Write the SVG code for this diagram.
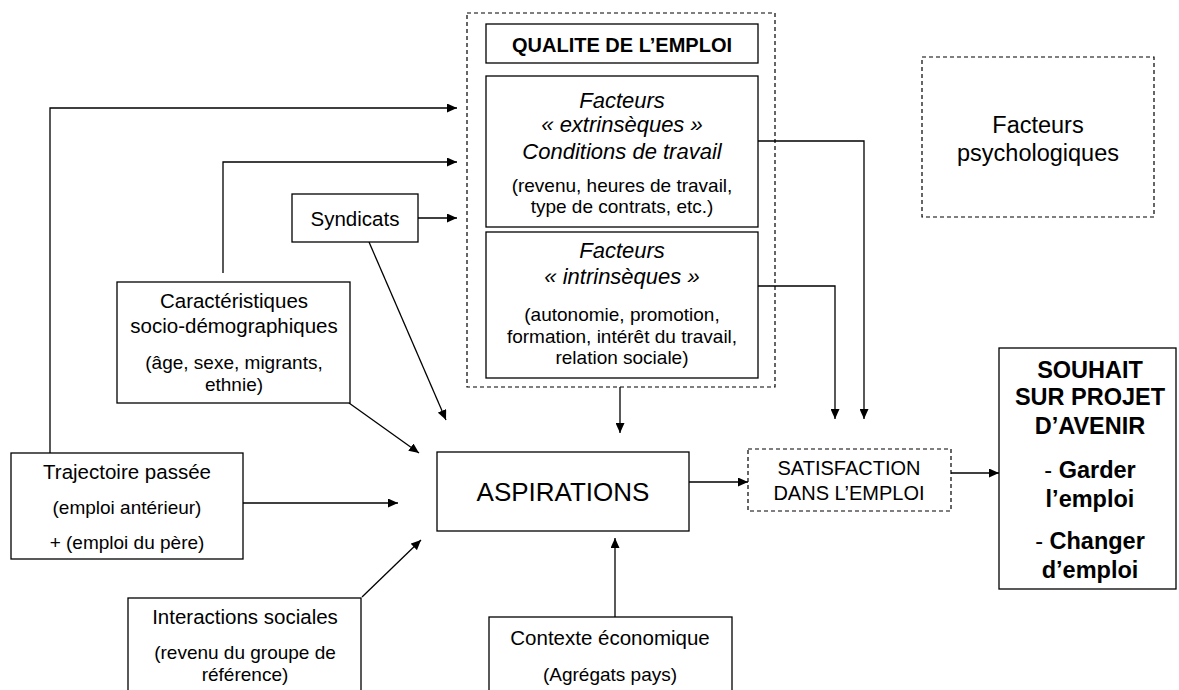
<svg xmlns="http://www.w3.org/2000/svg" width="1179" height="690" viewBox="0 0 1179 690">
<defs>
<marker id="arr" markerUnits="userSpaceOnUse" markerWidth="11" markerHeight="9" refX="10" refY="4.5" orient="auto">
<path d="M0,0 L10,4.5 L0,9 z" fill="#000"/>
</marker>
<style>
text{font-family:"Liberation Sans",Arial,sans-serif;fill:#000;text-anchor:middle}
.box{fill:#fff;stroke:#000;stroke-width:1.3}
.dash{fill:none;stroke:#000;stroke-width:1.2;stroke-dasharray:4 3}
.t{font-size:20.5px}
.p{font-size:19px}
.i{font-size:22px;font-style:italic}
.b{font-weight:bold}
.c{fill:none;stroke:#000;stroke-width:1.3}
.a{marker-end:url(#arr)}
</style>
</defs>
<rect width="1179" height="690" fill="#fff"/>

<g id="connectors">
<polyline class="c a" points="50,453 50,108 457,108"/>
<polyline class="c a" points="223,273 223,162 457,162"/>
<line class="c a" x1="418" y1="218" x2="457" y2="218"/>
<line class="c a" x1="369" y1="242" x2="446" y2="420"/>
<line class="c a" x1="349" y1="403" x2="419" y2="453"/>
<line class="c a" x1="243" y1="503" x2="398" y2="503"/>
<line class="c a" x1="362" y1="597" x2="421" y2="540"/>
<line class="c a" x1="620" y1="387" x2="620" y2="433"/>
<line class="c a" x1="615" y1="617" x2="615" y2="538"/>
<line class="c a" x1="689" y1="482" x2="748" y2="482"/>
<line class="c a" x1="951" y1="473" x2="999" y2="473"/>
<polyline class="c a" points="758,141 864,141 864,419"/>
<polyline class="c a" points="758,286 835,286 835,419"/>
</g>

<g id="qualite-group">
<rect class="dash" x="467" y="13" width="308" height="374"/>
</g>

<g id="qualite-title">
<rect class="box" x="486" y="24" width="272" height="39"/>
<text class="b" x="622" y="52" font-size="20">QUALITE DE L’EMPLOI</text>
</g>

<g id="extrinseques">
<rect class="box" x="486" y="76" width="272" height="151"/>
<text class="i" x="622" y="108">Facteurs</text>
<text class="i" x="622" y="132">«&#160;extrinsèques&#160;»</text>
<text class="i" x="622" y="159">Conditions de travail</text>
<text class="p" x="622" y="192">(revenu, heures de travail,</text>
<text class="p" x="622" y="213">type de contrats, etc.)</text>
</g>

<g id="intrinseques">
<rect class="box" x="486" y="232" width="272" height="146"/>
<text class="i" x="622" y="258">Facteurs</text>
<text class="i" x="622" y="284">«&#160;intrinsèques&#160;»</text>
<text class="p" x="622" y="321">(autonomie, promotion,</text>
<text class="p" x="622" y="343">formation, intérêt du travail,</text>
<text class="p" x="622" y="364">relation sociale)</text>
</g>

<g id="psychologiques">
<rect class="dash" x="922" y="57" width="232" height="160"/>
<text x="1038" y="133" font-size="23.5">Facteurs</text>
<text x="1038" y="161" font-size="23.5">psychologiques</text>
</g>

<g id="syndicats">
<rect class="box" x="292" y="194" width="126" height="48"/>
<text class="t" x="355" y="226">Syndicats</text>
</g>

<g id="caracteristiques">
<rect class="box" x="117" y="282" width="233" height="121"/>
<text class="t" x="234" y="308">Caractéristiques</text>
<text class="t" x="234" y="333">socio-démographiques</text>
<text class="p" x="234" y="369">(âge, sexe, migrants,</text>
<text class="p" x="234" y="391">ethnie)</text>
</g>

<g id="trajectoire">
<rect class="box" x="11" y="453" width="232" height="106"/>
<text class="t" x="127" y="479">Trajectoire passée</text>
<text class="p" x="127" y="514">(emploi antérieur)</text>
<text class="p" x="127" y="549">+ (emploi du père)</text>
</g>

<g id="interactions">
<rect class="box" x="128" y="598" width="233" height="110"/>
<text class="t" x="245" y="624">Interactions sociales</text>
<text class="p" x="245" y="659">(revenu du groupe de</text>
<text class="p" x="245" y="681">référence)</text>
</g>

<g id="aspirations">
<rect class="box" x="437" y="452" width="252" height="79"/>
<text x="563" y="501" font-size="26">ASPIRATIONS</text>
</g>

<g id="contexte">
<rect class="box" x="489" y="617" width="243" height="90"/>
<text class="t" x="610" y="645">Contexte économique</text>
<text class="p" x="610" y="681">(Agrégats pays)</text>
</g>

<g id="satisfaction">
<rect class="dash" x="748" y="449" width="203" height="62"/>
<text x="849" y="475" font-size="20">SATISFACTION</text>
<text x="849" y="500" font-size="20">DANS L’EMPLOI</text>
</g>

<g id="souhait">
<rect class="box" x="999" y="348" width="177" height="241"/>
<text class="b" x="1090" y="378" font-size="23.5">SOUHAIT</text>
<text class="b" x="1090" y="405" font-size="23.5">SUR PROJET</text>
<text class="b" x="1090" y="434" font-size="23.5">D’AVENIR</text>
<text x="1090" y="478" font-size="23.5"><tspan>- </tspan><tspan class="b">Garder</tspan></text>
<text class="b" x="1090" y="507" font-size="23.5">l’emploi</text>
<text x="1090" y="549" font-size="23.5"><tspan>- </tspan><tspan class="b">Changer</tspan></text>
<text class="b" x="1090" y="578" font-size="23.5">d’emploi</text>
</g>
</svg>
